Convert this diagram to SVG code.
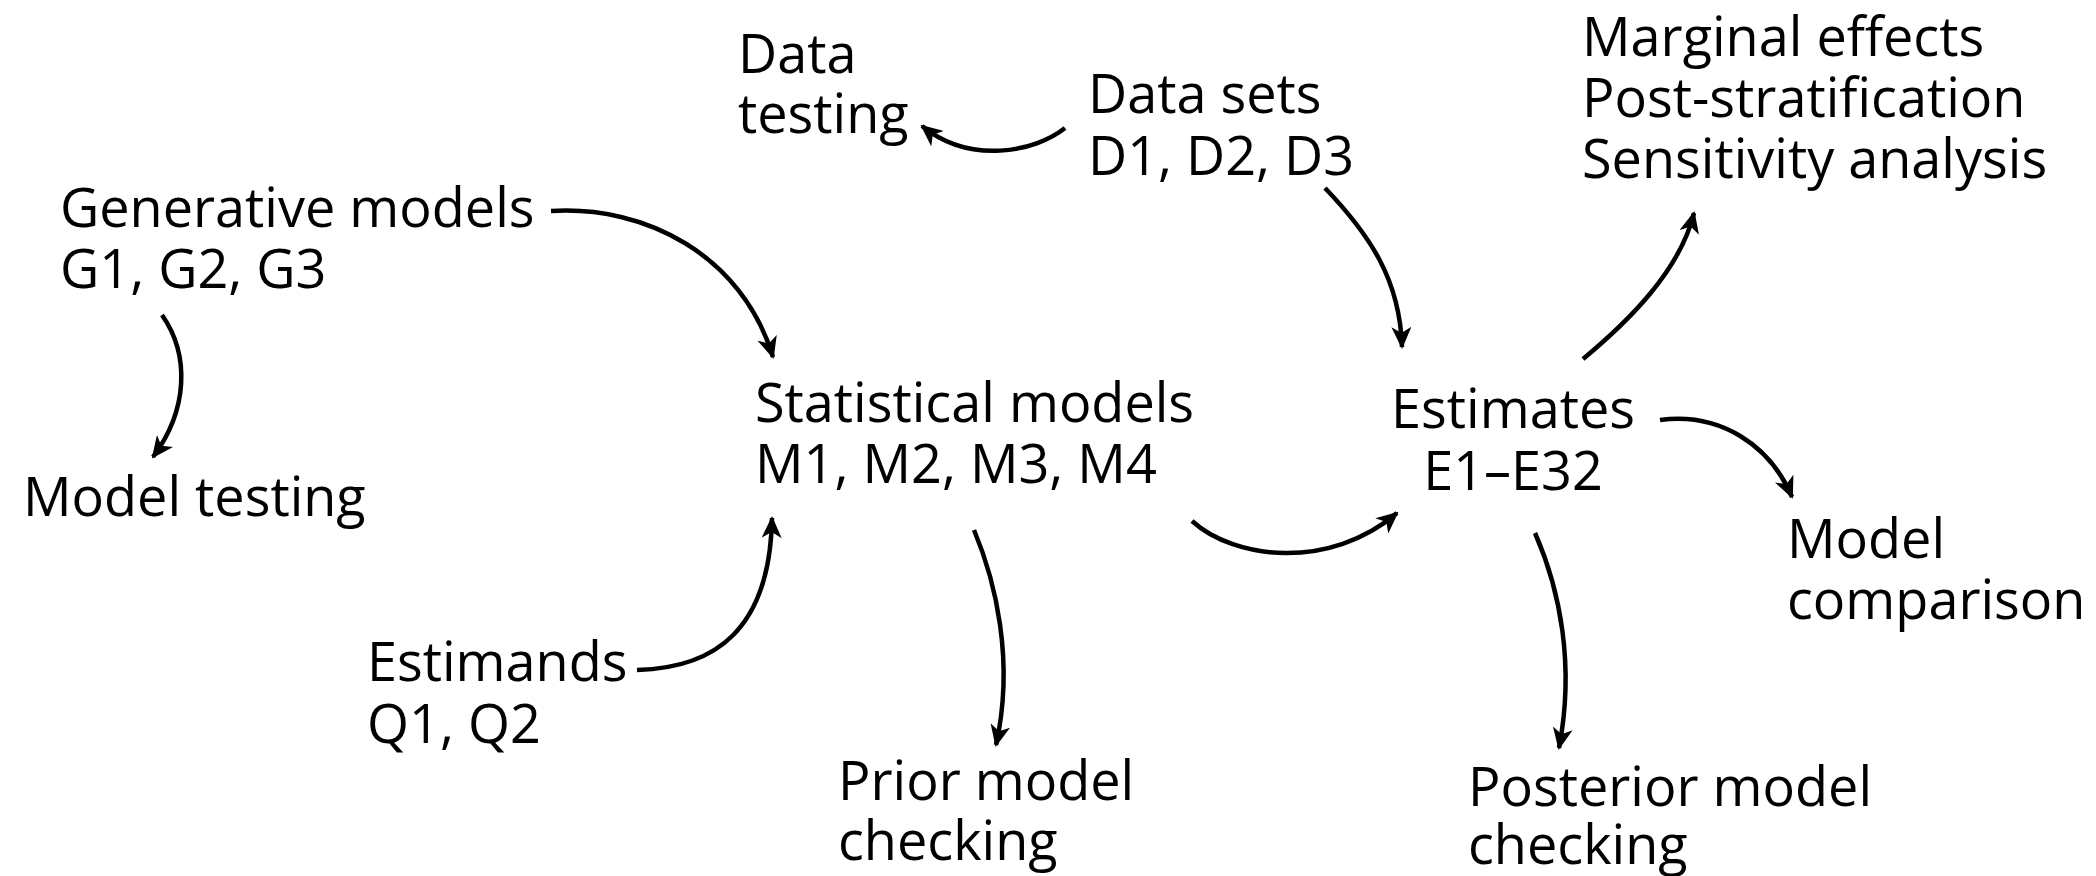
<svg xmlns="http://www.w3.org/2000/svg" width="2096" height="876" viewBox="0 0 2096 876">
<style>
text{font-family:"Open Sans","Liberation Sans",sans-serif;font-size:54px;fill:#000}
.c{fill:none;stroke:#000;stroke-width:4.5}
.m{text-anchor:middle}
</style>
<defs>
<marker id="ah" viewBox="0 0 22 20" refX="20" refY="10" markerWidth="22" markerHeight="20" markerUnits="userSpaceOnUse" orient="auto">
<path d="M0,0 L22,10 L0,20 L6,10 Z" fill="#000"/>
</marker>
</defs>
<rect width="2096" height="876" fill="#fff"/>
<g id="data-testing"><text x="738" y="73">Data</text><text x="738" y="133">testing</text></g>
<g id="data-sets"><text x="1088" y="113">Data sets</text><text x="1088" y="175">D1, D2, D3</text></g>
<g id="marginal"><text x="1582" y="56">Marginal effects</text><text x="1582" y="117">Post-stratification</text><text x="1582" y="178">Sensitivity analysis</text></g>
<g id="generative"><text x="60" y="227">Generative models</text><text x="60" y="288">G1, G2, G3</text></g>
<g id="model-testing"><text x="23" y="516">Model testing</text></g>
<g id="statistical"><text x="755" y="422">Statistical models</text><text x="755" y="483">M1, M2, M3, M4</text></g>
<g id="estimates"><text class="m" x="1513" y="428">Estimates</text><text class="m" x="1513" y="490">E1–E32</text></g>
<g id="model-comparison"><text x="1787" y="558">Model</text><text x="1787" y="619">comparison</text></g>
<g id="estimands"><text x="367" y="681">Estimands</text><text x="367" y="743">Q1, Q2</text></g>
<g id="prior"><text x="838" y="800">Prior model</text><text x="838" y="860">checking</text></g>
<g id="posterior"><text x="1468" y="806">Posterior model</text><text x="1468" y="864">checking</text></g>
<g id="connectors">
<path class="c" marker-end="url(#ah)" d="M551,211 C645,205 742,255 773,357"/>
<path class="c" marker-end="url(#ah)" d="M162,315 C190,355 188,410 153,457"/>
<path class="c" marker-end="url(#ah)" d="M1065,128 C1035,152 970,165 922,126"/>
<path class="c" marker-end="url(#ah)" d="M1325,188 C1370,235 1400,280 1402,347"/>
<path class="c" marker-end="url(#ah)" d="M1192,521 C1235,560 1330,570 1397,513"/>
<path class="c" marker-end="url(#ah)" d="M637,670 C715,668 770,630 772,518"/>
<path class="c" marker-end="url(#ah)" d="M974,530 C995,580 1015,660 996,745"/>
<path class="c" marker-end="url(#ah)" d="M1535,533 C1560,590 1575,665 1559,748"/>
<path class="c" marker-end="url(#ah)" d="M1583,359 C1630,320 1680,270 1694,213"/>
<path class="c" marker-end="url(#ah)" d="M1660,420 C1720,412 1770,445 1792,497"/>
</g>
</svg>
